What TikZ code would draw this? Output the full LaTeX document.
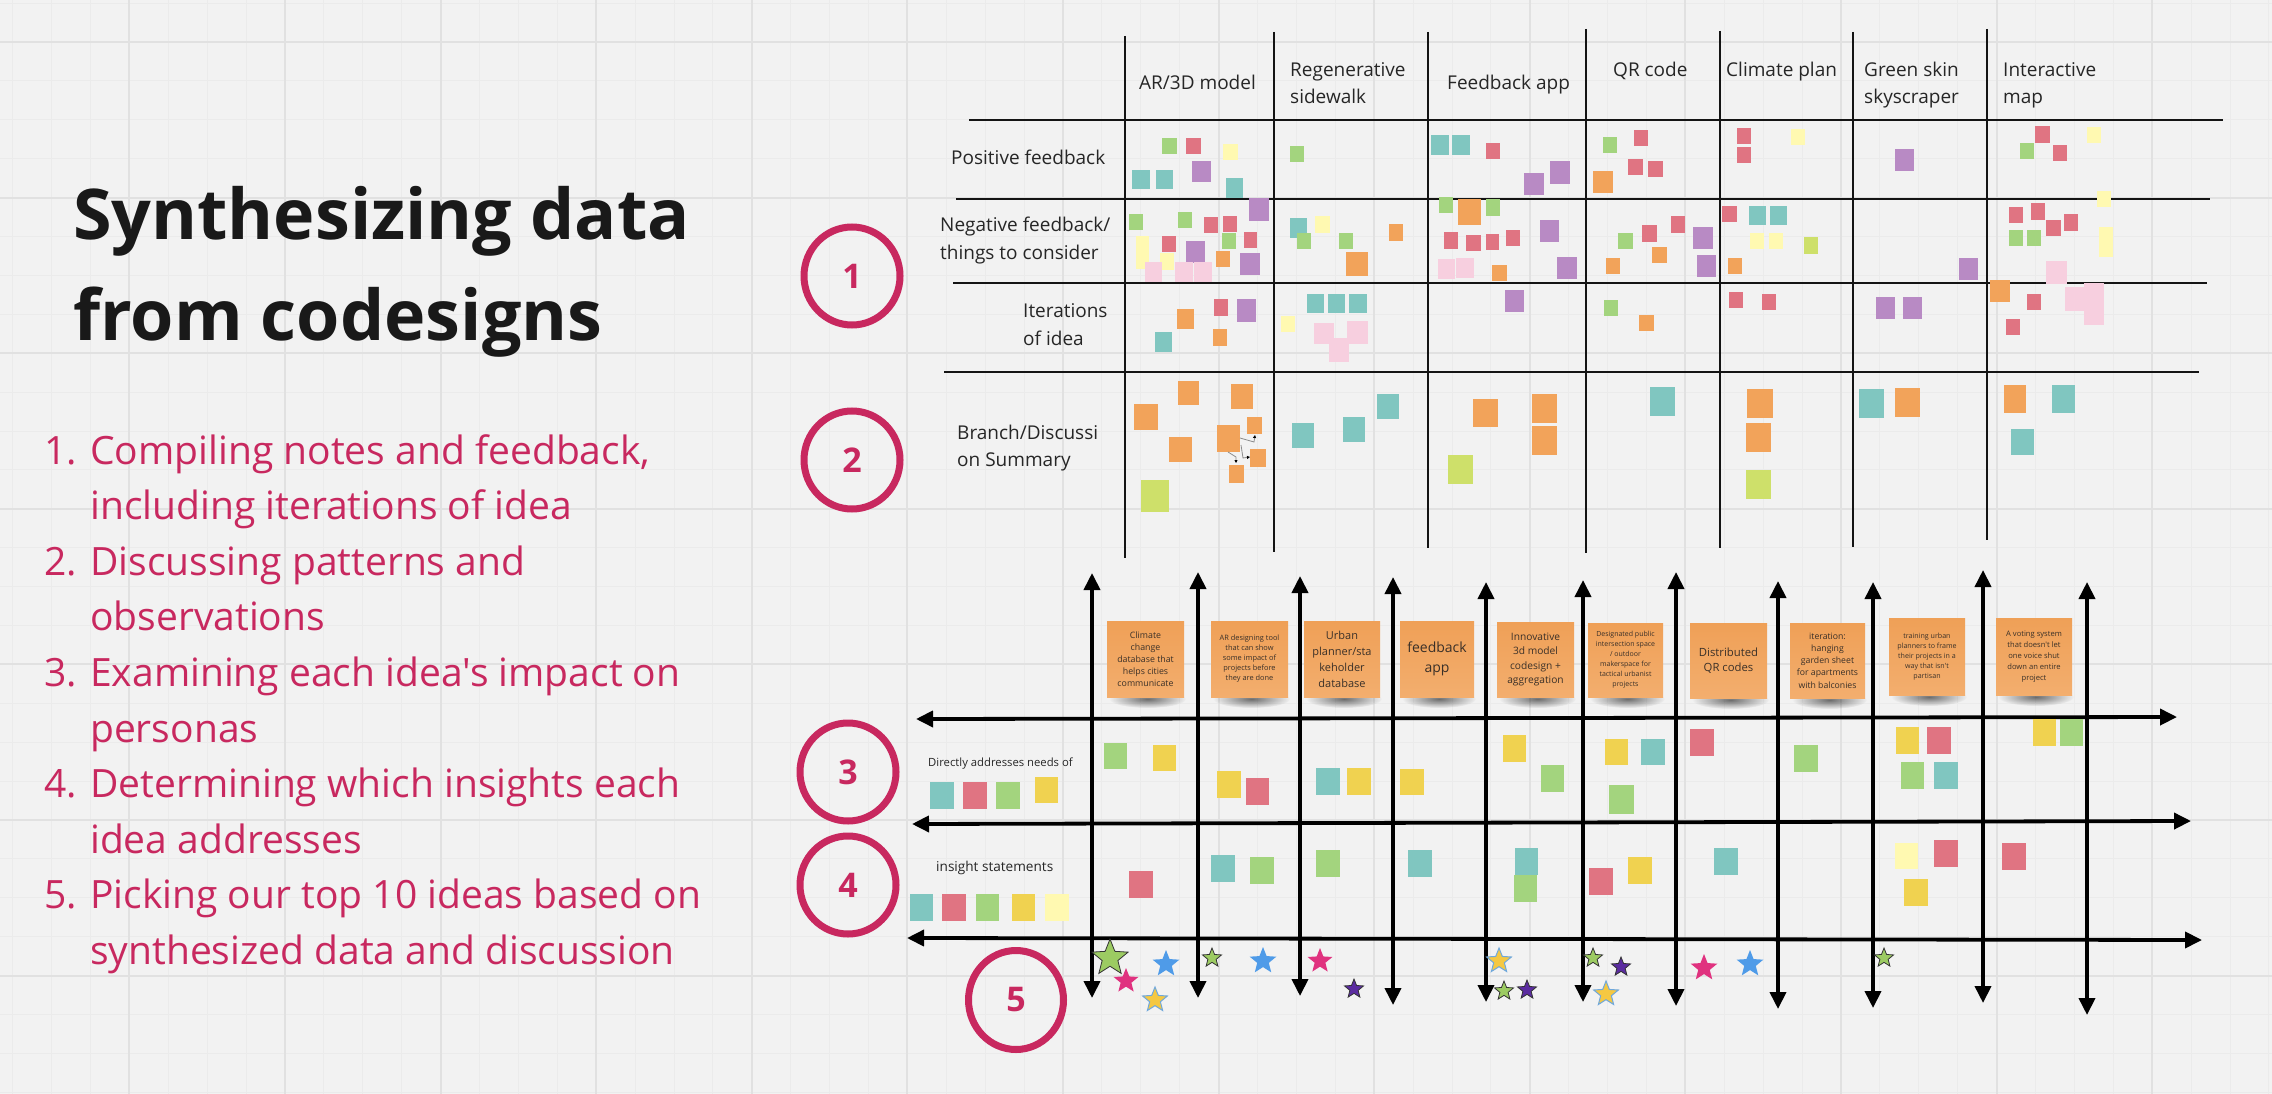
\documentclass[tikz,border=0pt]{standalone}
\usepackage{fontspec}
\setmainfont{Open Sans}[Ligatures=TeXOff]
\usetikzlibrary{arrows.meta,shapes.geometric,fadings}
\tikzfading[name=shfade, inner color=transparent!0, outer color=transparent!100]
\definecolor{bgc}{HTML}{F2F2F2}
\definecolor{gmin}{HTML}{EBEBEB}
\definecolor{gmaj}{HTML}{E1E1E1}
\definecolor{crim}{HTML}{C8285F}
\definecolor{nGr}{HTML}{A3D47E}
\definecolor{nRd}{HTML}{E07482}
\definecolor{nYl}{HTML}{FFF9B1}
\definecolor{nPu}{HTML}{B88AC4}
\definecolor{nTe}{HTML}{80C6C0}
\definecolor{nOr}{HTML}{F2A35A}
\definecolor{nPk}{HTML}{F7CFDF}
\definecolor{nLi}{HTML}{CEE06A}
\definecolor{nYd}{HTML}{F0D250}
\definecolor{oTop}{HTML}{EFA057}
\definecolor{oBot}{HTML}{F3AE6E}
\definecolor{ntext}{HTML}{3A3028}
\definecolor{sGr}{HTML}{9CCB62}
\definecolor{sPk}{HTML}{E0327F}
\definecolor{sBl}{HTML}{4F9BE8}
\definecolor{sYl}{HTML}{F5C842}
\definecolor{sYo}{HTML}{6FA8DC}
\definecolor{sPu}{HTML}{5B2CA0}
\newcommand{\myfs}[2]{\fontsize{#1}{#2}\selectfont}
\tikzset{
  gridminor/.style={draw=gmin,line width=1pt},
  gridmajor/.style={draw=gmaj,line width=2pt},
  tline/.style={draw=black!92,line width=2.2pt},
  barrow/.style={draw=black,line width=3.8pt,{Triangle[length=17pt,width=16pt]}-{Triangle[length=17pt,width=16pt]}},
  hdr/.style={anchor=base west,inner sep=0pt,text=black!85,font=\myfs{19}{27}},
  numcirc/.style={draw=crim,line width=7pt,ellipse,inner sep=0pt,text=crim,font=\bfseries\myfs{34}{34}},
  listnum/.style={anchor=base west,inner sep=0pt,text=crim,font=\myfs{39}{50}},
  idea/.style={inner sep=0pt,align=center,text=ntext,top color=oTop,bottom color=oBot},
  starb/.style={star,star points=5,star point ratio=2.3,inner sep=0pt},
  gcon/.style={draw=black!45,line width=0.8pt,-{Triangle[length=3pt,width=3pt,black]}}
}
\begin{document}
\begin{tikzpicture}[x=1pt,y=-1pt]
\useasboundingbox (0,0) rectangle (2272,1094);
\fill[bgc] (0,0) rectangle (2272,1094);
% grid
\foreach \i in {0,...,59}{\draw[gridminor] ({-26.2+38.9*\i},0) -- ({-26.2+38.9*\i},1094);}
\foreach \j in {0,...,28}{\draw[gridminor] (0,{3.1+38.9*\j}) -- (2272,{3.1+38.9*\j});}
\foreach \i in {0,...,15}{\draw[gridmajor] ({-26.2+155.6*\i},0) -- ({-26.2+155.6*\i},1094);}
\foreach \j in {0,...,7}{\draw[gridmajor] (0,{42+155.6*\j}) -- (2272,{42+155.6*\j});}

% title
\node[anchor=base west,inner sep=0pt,text=black!90,font=\bfseries\myfs{70}{100}] (t1) at (73,239) {Synthesizing data};
\node[anchor=base west,inner sep=0pt,text=black!90,font=\bfseries\myfs{70}{100}] (t2) at (73,340) {from codesigns};

% list
\node[listnum] (n1) at (44,464) {1.};
\node[listnum] (l1a) at (90,464) {Compiling notes and feedback,};
\node[listnum] (l1b) at (90,519.6) {including iterations of idea};
\node[listnum] (n2) at (44,575.2) {2.};
\node[listnum] (l2a) at (90,575.2) {Discussing patterns and};
\node[listnum] (l2b) at (90,630.8) {observations};
\node[listnum] (n3) at (44,686.4) {3.};
\node[listnum] (l3a) at (90,686.4) {Examining each idea's impact on};
\node[listnum] (l3b) at (90,742) {personas};
\node[listnum] (n4) at (44,797.6) {4.};
\node[listnum] (l4a) at (90,797.6) {Determining which insights each};
\node[listnum] (l4b) at (90,853.2) {idea addresses};
\node[listnum] (n5) at (44,908.8) {5.};
\node[listnum] (l5a) at (90,908.8) {Picking our top 10 ideas based on};
\node[listnum] (l5b) at (90,964.4) {synthesized data and discussion};

% numbered circles
\node[numcirc,minimum width=96pt,minimum height=98pt] (c1) at (852,276) {1};
\node[numcirc,minimum width=96pt,minimum height=98pt] (c2) at (852,460) {2};
\node[numcirc,minimum width=96pt,minimum height=98pt] (c3) at (848,772) {3};
\node[numcirc,minimum width=96pt,minimum height=98pt] (c4) at (848,885) {4};
\node[numcirc,minimum width=95pt,minimum height=99pt] (c5) at (1016,1000) {5};

% table lines
\foreach \x/\a/\b in {1125/36/558,1274/32/552,1428/32/548,1586/29/553,1720/31/548,1853/32/547,1987/29/540}
  {\draw[tline] (\x,\a) -- (\x,\b);}
\draw[tline] (969,120) -- (2223,120);
\draw[tline] (956,199) -- (2210,199);
\draw[tline] (953,283) -- (2207,283);
\draw[tline] (944,372) -- (2199,372);

% table headers
\node[hdr] (h1) at (1139,90) {AR/3D model};
\node[hdr] (h2a) at (1290,77) {Regenerative};
\node[hdr] (h2b) at (1290,104) {sidewalk};
\node[hdr] (h3) at (1447,90) {Feedback app};
\node[hdr] (h4) at (1613,77) {QR code};
\node[hdr] (h5) at (1726,77) {Climate plan};
\node[hdr] (h6a) at (1864,77) {Green skin};
\node[hdr] (h6b) at (1864,104) {skyscraper};
\node[hdr] (h7a) at (2003,77) {Interactive};
\node[hdr] (h7b) at (2003,104) {map};
% row labels
\node[hdr] (r1) at (951,165) {Positive feedback};
\node[hdr] (r2a) at (940,232) {Negative feedback/};
\node[hdr] (r2b) at (940,259) {things to consider};
\node[hdr] (r3a) at (1023,317) {Iterations};
\node[hdr] (r3b) at (1023,345) {of idea};
\node[hdr] (r4a) at (957,439) {Branch/Discussi};
\node[hdr] (r4b) at (957,466) {on Summary};

% table sticky notes
\foreach \c/\a/\b/\p/\q in {
 nGr/1162/138/1177/154, nRd/1186/138/1201/154, nYl/1223/144/1238/160, nPu/1192/161/1211/182,
 nTe/1132/170/1150/189, nTe/1156/170/1173/189, nTe/1226/178/1243/198,
 nPu/1249/198/1269/221, nGr/1129/214/1143/230, nGr/1178/212/1192/228, nRd/1204/217/1218/233,
 nRd/1223/216/1237/232, nGr/1222/233/1236/249, nRd/1244/232/1257/248, nYl/1136/236/1149/269,
 nRd/1162/236/1176/252, nPu/1186/241/1205/263, nYl/1160/253/1174/270, nOr/1216/251/1230/267,
 nPu/1240/253/1260/275, nPk/1145/262/1162/282, nPk/1175/262/1193/282, nPk/1194/262/1212/282,
 nRd/1214/299/1228/316, nPu/1237/299/1256/322, nOr/1177/309/1194/329, nOr/1213/329/1227/346,
 nTe/1155/332/1172/352,
 nGr/1290/146/1304/162, nTe/1290/218/1307/238, nGr/1297/233/1311/249, nYl/1315/216/1330/233,
 nGr/1339/233/1353/249, nOr/1389/224/1403/241, nOr/1346/252/1368/276,
 nTe/1307/294/1324/313, nTe/1328/294/1345/313, nTe/1349/294/1367/313, nYl/1281/316/1295/332,
 nPk/1314/323/1334/344, nPk/1347/321/1368/344, nPk/1329/338/1349/362,
 nTe/1431/135/1449/155, nTe/1452/135/1470/155, nRd/1486/143/1500/159, nPu/1524/173/1544/195,
 nPu/1550/161/1570/184,
 nGr/1439/197/1453/213, nOr/1458/199/1481/225, nGr/1486/199/1500/216, nRd/1444/232/1458/249,
 nRd/1466/235/1481/251, nRd/1486/234/1499/250, nRd/1506/230/1520/246, nPu/1540/220/1559/242,
 nPk/1438/259/1455/279, nPk/1456/258/1474/278, nOr/1492/265/1507/281, nPu/1557/257/1577/279,
 nPu/1505/290/1524/312,
 nGr/1603/137/1617/153, nRd/1634/130/1648/146, nRd/1628/159/1643/175, nRd/1648/161/1663/177,
 nOr/1593/171/1613/193,
 nGr/1618/233/1633/249, nRd/1642/225/1657/242, nRd/1671/216/1685/233, nPu/1693/227/1713/249,
 nOr/1652/247/1667/263, nOr/1606/258/1620/274, nPu/1697/255/1716/277,
 nGr/1604/300/1618/316, nOr/1639/315/1654/331,
 nRd/1737/128/1751/144, nRd/1737/147/1751/163, nYl/1791/129/1805/145,
 nRd/1722/206/1737/222, nTe/1749/206/1766/225, nTe/1770/206/1787/225, nYl/1750/233/1764/249,
 nYl/1769/233/1783/249, nLi/1804/237/1818/254, nOr/1728/258/1742/274,
 nRd/1729/292/1743/308, nRd/1762/294/1776/310,
 nPu/1895/149/1914/171, nPu/1959/258/1978/280, nPu/1876/297/1895/319, nPu/1903/297/1922/319,
 nRd/2035/126/2050/143, nYl/2087/127/2101/143, nGr/2020/143/2034/159, nRd/2053/145/2067/161,
 nYl/2097/191/2111/207, nRd/2009/207/2023/223, nRd/2031/203/2045/220, nRd/2046/220/2061/236,
 nRd/2064/214/2078/231, nGr/2009/230/2023/246, nGr/2027/230/2041/246, nYl/2099/227/2113/257,
 nPk/2046/261/2067/284,
 nOr/1990/280/2010/302, nRd/2027/294/2041/310, nRd/2006/319/2020/335, nPk/2065/287/2085/311,
 nPk/2084/283/2104/325,
 nOr/1178/381/1199/405, nOr/1134/404/1158/430, nOr/1231/384/1253/409, nOr/1247/417/1262/434,
 nOr/1217/425/1240/452, nOr/1169/437/1192/462, nOr/1250/449/1266/467, nOr/1229/465/1244/483,
 nLi/1141/480/1169/512,
 nTe/1292/423/1314/448, nTe/1343/417/1365/442, nTe/1377/394/1399/419,
 nOr/1473/399/1498/427, nOr/1532/394/1557/423, nOr/1532/426/1557/455, nLi/1448/455/1473/484,
 nTe/1650/387/1675/416,
 nOr/1747/389/1773/418, nOr/1746/423/1771/452, nLi/1746/470/1771/499,
 nTe/1859/389/1884/418, nOr/1895/388/1920/417,
 nOr/2004/385/2026/413, nTe/2052/385/2075/413, nTe/2011/429/2034/455}
 {\fill[\c] (\a,\b) rectangle (\p,\q);}

% tiny connectors in branch cell
\coordinate (ga1) at (1240,438); \coordinate (ga2) at (1255,435);
\coordinate (gb1) at (1241,445); \coordinate (gb2) at (1250,457);
\coordinate (gc1) at (1228,452); \coordinate (gc2) at (1236,463);
\draw[gcon] (ga1) -- (1254,442) -- (ga2);
\draw[gcon] (gb1) -- (1243,458) -- (gb2);
\draw[gcon] (gc1) -- (1236,457) -- (gc2);

% bottom grid arrows
\coordinate (hl1) at (916,719); \coordinate (hr1) at (2177,717);
\coordinate (hl2) at (912,824); \coordinate (hr2) at (2191,821);
\coordinate (hl3) at (907,938); \coordinate (hr3) at (2202,940);
\draw[barrow] (hl1) -- (hr1);
\draw[barrow] (hl2) -- (hr2);
\draw[barrow] (hl3) -- (hr3);
\foreach \n/\x/\a/\b in {1/1092/573/998,2/1198/572/998,3/1300/576/996,4/1393/577/1005,5/1486/582/1002,
  6/1583/580/1002,7/1676/572/1006,8/1778/581/1009,9/1873/582/1008,10/1983/570/1003,11/2087/582/1015}
 {\coordinate (vt\n) at (\x,\a); \coordinate (vb\n) at (\x,\b); \draw[barrow] (vt\n) -- (vb\n);}

% idea note shadows
\foreach \cx/\by/\w in {1145.5/697/77,1249.5/697/77,1342/697/76,1437/697/74,1535.5/697/77,
  1625.5/697/75,1728.5/698/77,1827.5/698/75,1927/695/76,2034/695/76}
 {\fill[black,opacity=0.55,path fading=shfade] (\cx+2,\by+2) ellipse [x radius=\w*0.5, y radius=9];}

% idea notes
\node[idea,minimum width=77pt,minimum height=76pt,font=\myfs{8.8}{12}] (i1) at (1145.5,659) {Climate\\change\\database that\\helps cities\\communicate};
\node[idea,minimum width=77pt,minimum height=76pt,font=\myfs{7.4}{10}] (i2) at (1249.5,659) {AR designing tool\\that can show\\some impact of\\projects before\\they are done};
\node[idea,minimum width=76pt,minimum height=76pt,font=\myfs{11}{16}] (i3) at (1342,659) {Urban\\planner/sta\\keholder\\database};
\node[idea,minimum width=74pt,minimum height=76pt,font=\myfs{14}{20}] (i4) at (1437,659) {feedback\\app};
\node[idea,minimum width=77pt,minimum height=75pt,font=\myfs{10.2}{14.5}] (i5) at (1535.5,659.5) {Innovative\\3d model\\codesign +\\aggregation};
\node[idea,minimum width=75pt,minimum height=74pt,font=\myfs{7}{10}] (i6) at (1625.5,660) {Designated public\\intersection space\\/ outdoor\\makerspace for\\tactical urbanist\\projects};
\node[idea,minimum width=77pt,minimum height=75pt,font=\myfs{11.3}{15}] (i7) at (1728.5,660.5) {Distributed\\QR codes};
\node[idea,minimum width=75pt,minimum height=75pt,font=\myfs{8.7}{12.3}] (i8) at (1827.5,660.5) {iteration:\\hanging\\garden sheet\\for apartments\\with balconies};
\node[idea,minimum width=76pt,minimum height=77pt,font=\myfs{7.1}{10}] (i9) at (1927,656.5) {training urban\\planners to frame\\their projects in a\\way that isn't\\partisan};
\node[idea,minimum width=76pt,minimum height=77pt,font=\myfs{7.6}{11}] (i10) at (2034,656.5) {A voting system\\that doesn't let\\one voice shut\\down an entire\\project};

% bottom labels
\node[anchor=base west,inner sep=0pt,text=black!85,font=\myfs{11.3}{14}] (lb1) at (928,766) {Directly addresses needs of};
\node[anchor=base west,inner sep=0pt,text=black!85,font=\myfs{13.6}{16}] (lb2) at (936,871) {insight statements};

% bottom grid notes
\foreach \c/\a/\b/\p/\q in {
 nTe/930/782/954/809, nRd/963/782/987/809, nGr/996/782/1020/809, nYd/1035/777/1058/803,
 nTe/910/894/933/921, nRd/942/894/966/921, nGr/976/894/999/921, nYd/1012/894/1035/921, nYl/1045/894/1069/921,
 nGr/1104/743/1127/769, nYd/1153/745/1176/771, nYd/1217/771/1241/798, nRd/1246/778/1269/805,
 nTe/1316/768/1340/795, nYd/1347/768/1371/795, nYd/1400/769/1424/795, nYd/1503/735/1526/762,
 nGr/1541/765/1564/792,
 nYd/1605/739/1628/765, nTe/1641/739/1665/765, nGr/1609/785/1634/814, nRd/1690/729/1714/756,
 nGr/1794/745/1818/772, nYd/1896/727/1919/754, nRd/1927/727/1951/754, nGr/1901/762/1924/789,
 nTe/1934/762/1958/789, nYd/2033/719/2056/746, nGr/2060/719/2083/746,
 nRd/1129/871/1153/898, nTe/1211/855/1235/882, nGr/1250/857/1274/884, nGr/1316/850/1340/877,
 nTe/1408/850/1432/877, nTe/1515/848/1538/875, nGr/1514/875/1537/902,
 nRd/1589/868/1613/895, nYd/1628/857/1652/884, nTe/1714/848/1738/875,
 nYl/1895/843/1918/869, nRd/1934/840/1958/867, nYd/1904/879/1928/906, nRd/2002/843/2026/870}
 {\fill[\c] (\a,\b) rectangle (\p,\q);}

% stars
\node[starb,fill=sGr,draw=black!80,line width=0.8pt,minimum size=38pt] (s1) at (1110,958) {};
\node[starb,fill=sPk,minimum size=26pt] (s2) at (1126,981) {};
\node[starb,fill=sBl,minimum size=28pt] (s3) at (1166,964) {};
\node[starb,fill=sYl,draw=sYo,line width=1pt,minimum size=26pt] (s4) at (1155,1000) {};
\node[starb,fill=sGr,draw=black!80,line width=0.8pt,minimum size=20pt] (s5) at (1212,958) {};
\node[starb,fill=sBl,minimum size=28pt] (s6) at (1263,961) {};
\node[starb,fill=sPk,minimum size=26pt] (s7) at (1320,961) {};
\node[starb,fill=sPu,draw=black!80,line width=0.8pt,minimum size=20pt] (s8) at (1354,989) {};
\node[starb,fill=sYl,draw=sYo,line width=1pt,minimum size=26pt] (s9) at (1499,961) {};
\node[starb,fill=sGr,draw=black!80,line width=0.8pt,minimum size=20pt] (s10) at (1504,991) {};
\node[starb,fill=sPu,draw=black!80,line width=0.8pt,minimum size=20pt] (s11) at (1527,990) {};
\node[starb,fill=sGr,draw=black!80,line width=0.8pt,minimum size=20pt] (s12) at (1593,958) {};
\node[starb,fill=sPu,draw=black!80,line width=0.8pt,minimum size=20pt] (s13) at (1621,967) {};
\node[starb,fill=sYl,draw=sYo,line width=1pt,minimum size=26pt] (s14) at (1606,994) {};
\node[starb,fill=sPk,minimum size=28pt] (s15) at (1704,968) {};
\node[starb,fill=sBl,minimum size=28pt] (s16) at (1750,964) {};
\node[starb,fill=sGr,draw=black!80,line width=0.8pt,minimum size=20pt] (s17) at (1884,958) {};
\end{tikzpicture}
\end{document}
